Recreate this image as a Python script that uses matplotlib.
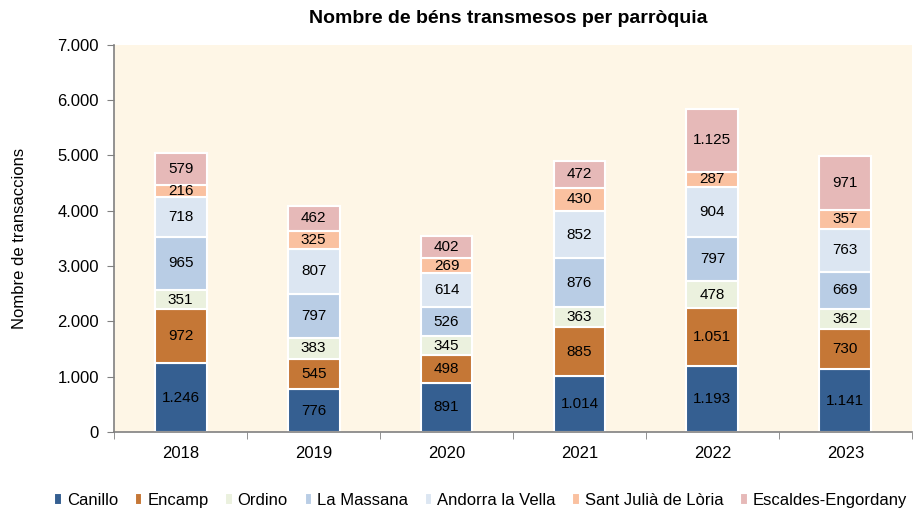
import matplotlib
matplotlib.use("Agg")
import matplotlib.pyplot as plt
import numpy as np
from matplotlib.ticker import FuncFormatter, FixedLocator

plt.rcParams['font.family'] = ['Liberation Sans', 'DejaVu Sans']

years = ["2018", "2019", "2020", "2021", "2022", "2023"]
parishes = ["Canillo", "Encamp", "Ordino", "La Massana", "Andorra la Vella",
            "Sant Julià de Lòria", "Escaldes-Engordany"]
canillo = [1246, 776, 891, 1014, 1193, 1141]
encamp = [972, 545, 498, 885, 1051, 730]
ordino = [351, 383, 345, 363, 478, 362]
la_massana = [965, 797, 526, 876, 797, 669]
andorra = [718, 807, 614, 852, 904, 763]
sant_julia = [216, 325, 269, 430, 287, 357]
escaldes = [579, 462, 402, 472, 1125, 971]
series = [canillo, encamp, ordino, la_massana, andorra, sant_julia, escaldes]
colors = ["#355F91", "#C57736", "#EBF1DE", "#B9CDE5", "#DCE6F2", "#FAC1A0", "#E6B9B8"]

def fmt(v):
    return f"{int(v):,}".replace(",", ".")

fig = plt.figure(figsize=(9.21, 5.15), dpi=100)
ax = fig.add_axes([0.124, 0.161, 0.866, 0.752])
ax.set_facecolor("#FEF6E6")

x = np.arange(len(years))
bottom = np.zeros(len(years))
for name, vals, c in zip(parishes, series, colors):
    vals = np.array(vals, dtype=float)
    ax.bar(x, vals, 0.39, bottom=bottom, color=c, edgecolor="white",
           linewidth=1.5, label=name)
    for xi, b, v in zip(x, bottom, vals):
        ax.text(xi, b + v / 2, fmt(v), ha="center", va="center", fontsize=11,
                color="black")
    bottom += vals

ax.set_xlim(-0.5, len(years) - 0.5)
ax.set_ylim(0, 7000)
ax.set_yticks(np.arange(0, 7001, 1000))
ax.yaxis.set_major_formatter(FuncFormatter(lambda v, p: fmt(v)))
ax.set_xticks(x)
ax.set_xticklabels(years)
ax.xaxis.set_minor_locator(FixedLocator(np.arange(-0.5, len(years), 1.0)))
ax.tick_params(axis="x", which="major", length=0, pad=10, labelsize=12)
ax.tick_params(axis="x", which="minor", length=5, color="#808080")
ax.tick_params(axis="y", length=5, color="#808080", labelsize=12, pad=6)
for s in ["top", "right"]:
    ax.spines[s].set_visible(False)
for s in ["left", "bottom"]:
    ax.spines[s].set_color("#808080")
    ax.spines[s].set_linewidth(1.2)
ax.set_ylabel("Nombre de transaccions", fontsize=12, labelpad=22)

fig.text(0.552, 0.965, "Nombre de béns transmesos per parròquia",
         ha="center", va="center", fontsize=14, fontweight="bold")

fig.legend(loc="center", bbox_to_anchor=(0.522, 0.028), ncol=7, frameon=False,
           fontsize=12, handlelength=0.45, handleheight=0.7, handletextpad=0.3,
           columnspacing=1.0)

fig.savefig("out.png", dpi=100)
